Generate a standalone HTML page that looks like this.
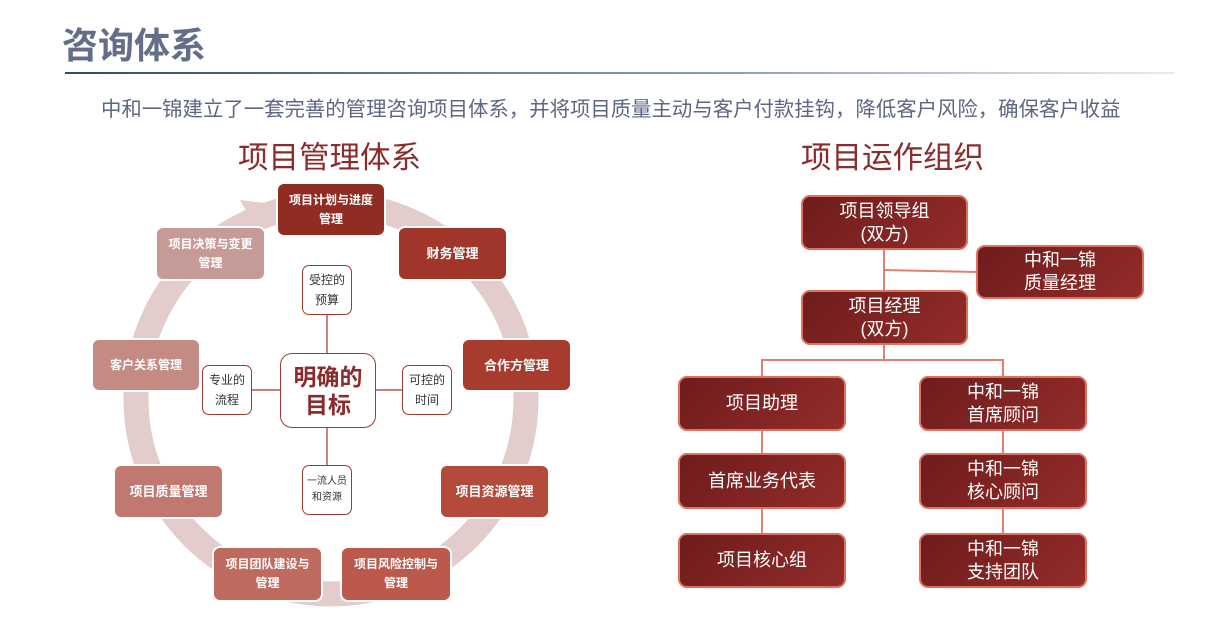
<!DOCTYPE html>
<html><head><meta charset="utf-8"><style>
body{margin:0;width:1221px;height:619px;background:#fff;position:relative;overflow:hidden;font-family:"Liberation Sans","Noto Sans CJK SC",sans-serif}
.a{position:absolute}
.t{left:62px;top:24px;font-size:36px;font-weight:bold;color:#646e88;line-height:44px}
.ln{left:65px;top:72px;width:1110px;height:2px;background:linear-gradient(90deg,#2f4a78,#8f9fb8 60%,#e8ecf2)}
.sub{left:101px;top:97px;font-size:20.4px;color:#5d6784;line-height:26px;white-space:nowrap}
.h{font-size:30.5px;color:#8b2b2b;line-height:36px;top:140px}
.b{position:absolute;border:2px solid #fff;border-radius:8px;color:#fff;font-weight:bold;font-size:12px;line-height:19px;display:flex;align-items:center;justify-content:center;text-align:center;box-sizing:border-box}
.s{position:absolute;border:1.5px solid #a03a30;border-radius:7px;background:#fff;color:#333;font-size:12px;line-height:20px;display:flex;align-items:center;justify-content:center;text-align:center;box-sizing:border-box}
.r{position:absolute;border:2px solid #e07060;border-radius:9px;background:linear-gradient(135deg,#6e1c1c,#932c2a);color:#fff;font-size:18px;line-height:23px;display:flex;align-items:center;justify-content:center;text-align:center;box-sizing:border-box}
</style></head><body>
<div class="a t">咨询体系</div>
<div class="a ln"></div>
<div class="a sub">中和一锦建立了一套完善的管理咨询项目体系，并将项目质量主动与客户付款挂钩，降低客户风险，确保客户收益</div>
<div class="a h" style="left:238px">项目管理体系</div>
<div class="a h" style="left:801px">项目运作组织</div>
<svg class="a" style="left:0;top:0" width="1221" height="619">
<circle cx="331" cy="399" r="195" fill="none" stroke="#e2cccc" stroke-width="25"/>
<polygon points="240,200 280,205 258,232" fill="#e2cccc"/>
<g stroke="#a03a30" stroke-width="1.2">
<line x1="327" y1="315" x2="327" y2="353"/><line x1="327" y1="428" x2="327" y2="465"/>
<line x1="252" y1="390" x2="280" y2="390"/><line x1="376" y1="390" x2="402" y2="390"/>
</g>
<g stroke="#e08070" stroke-width="2" fill="none">
<line x1="884" y1="249" x2="884" y2="291"/><line x1="884" y1="270" x2="977" y2="272"/>
<polyline points="884,344 884,360 762,360 762,377"/><polyline points="884,360 1003,360 1003,377"/>
<line x1="762" y1="430" x2="762" y2="454"/><line x1="762" y1="508" x2="762" y2="534"/>
<line x1="1003" y1="430" x2="1003" y2="454"/><line x1="1003" y1="508" x2="1003" y2="534"/>
</g>
</svg>
<div class="b" style="left:276px;top:182px;width:110px;height:55px;background:#902c22">项目计划与进度<br>管理</div>
<div class="b" style="left:397px;top:226px;width:111px;height:55px;background:#a0352a;font-size:13px">财务管理</div>
<div class="b" style="left:461px;top:338px;width:111px;height:54px;background:#a63b2e;font-size:13px">合作方管理</div>
<div class="b" style="left:439px;top:464px;width:111px;height:55px;background:#b44a3c;font-size:13px">项目资源管理</div>
<div class="b" style="left:340px;top:546px;width:112px;height:56px;background:#bb5a4c">项目风险控制与<br>管理</div>
<div class="b" style="left:212px;top:546px;width:111px;height:56px;background:#be6a5f">项目团队建设与<br>管理</div>
<div class="b" style="left:113px;top:464px;width:111px;height:55px;background:#c07870;font-size:13px">项目质量管理</div>
<div class="b" style="left:91px;top:338px;width:110px;height:54px;background:#c48a84">客户关系管理</div>
<div class="b" style="left:155px;top:226px;width:111px;height:55px;background:#c69a96">项目决策与变更<br>管理</div>
<div class="s" style="left:280px;top:353px;width:96px;height:75px;border-radius:12px;color:#8b2b2b;font-size:23px;font-weight:bold;line-height:28px">明确的<br>目标</div>
<div class="s" style="left:302px;top:265px;width:50px;height:50px">受控的<br>预算</div>
<div class="s" style="left:402px;top:365px;width:50px;height:50px">可控的<br>时间</div>
<div class="s" style="left:302px;top:465px;width:50px;height:50px;font-size:10px;line-height:16px">一流人员<br>和资源</div>
<div class="s" style="left:202px;top:365px;width:50px;height:50px">专业的<br>流程</div>
<div class="r" style="left:801px;top:195px;width:167px;height:55px">项目领导组<br>(双方)</div>
<div class="r" style="left:976px;top:245px;width:168px;height:54px">中和一锦<br>质量经理</div>
<div class="r" style="left:801px;top:290px;width:167px;height:55px">项目经理<br>(双方)</div>
<div class="r" style="left:678px;top:376px;width:168px;height:55px">项目助理</div>
<div class="r" style="left:919px;top:376px;width:168px;height:55px">中和一锦<br>首席顾问</div>
<div class="r" style="left:678px;top:453px;width:168px;height:56px">首席业务代表</div>
<div class="r" style="left:919px;top:453px;width:168px;height:56px">中和一锦<br>核心顾问</div>
<div class="r" style="left:678px;top:533px;width:168px;height:55px">项目核心组</div>
<div class="r" style="left:919px;top:533px;width:168px;height:55px">中和一锦<br>支持团队</div>
</body></html>
